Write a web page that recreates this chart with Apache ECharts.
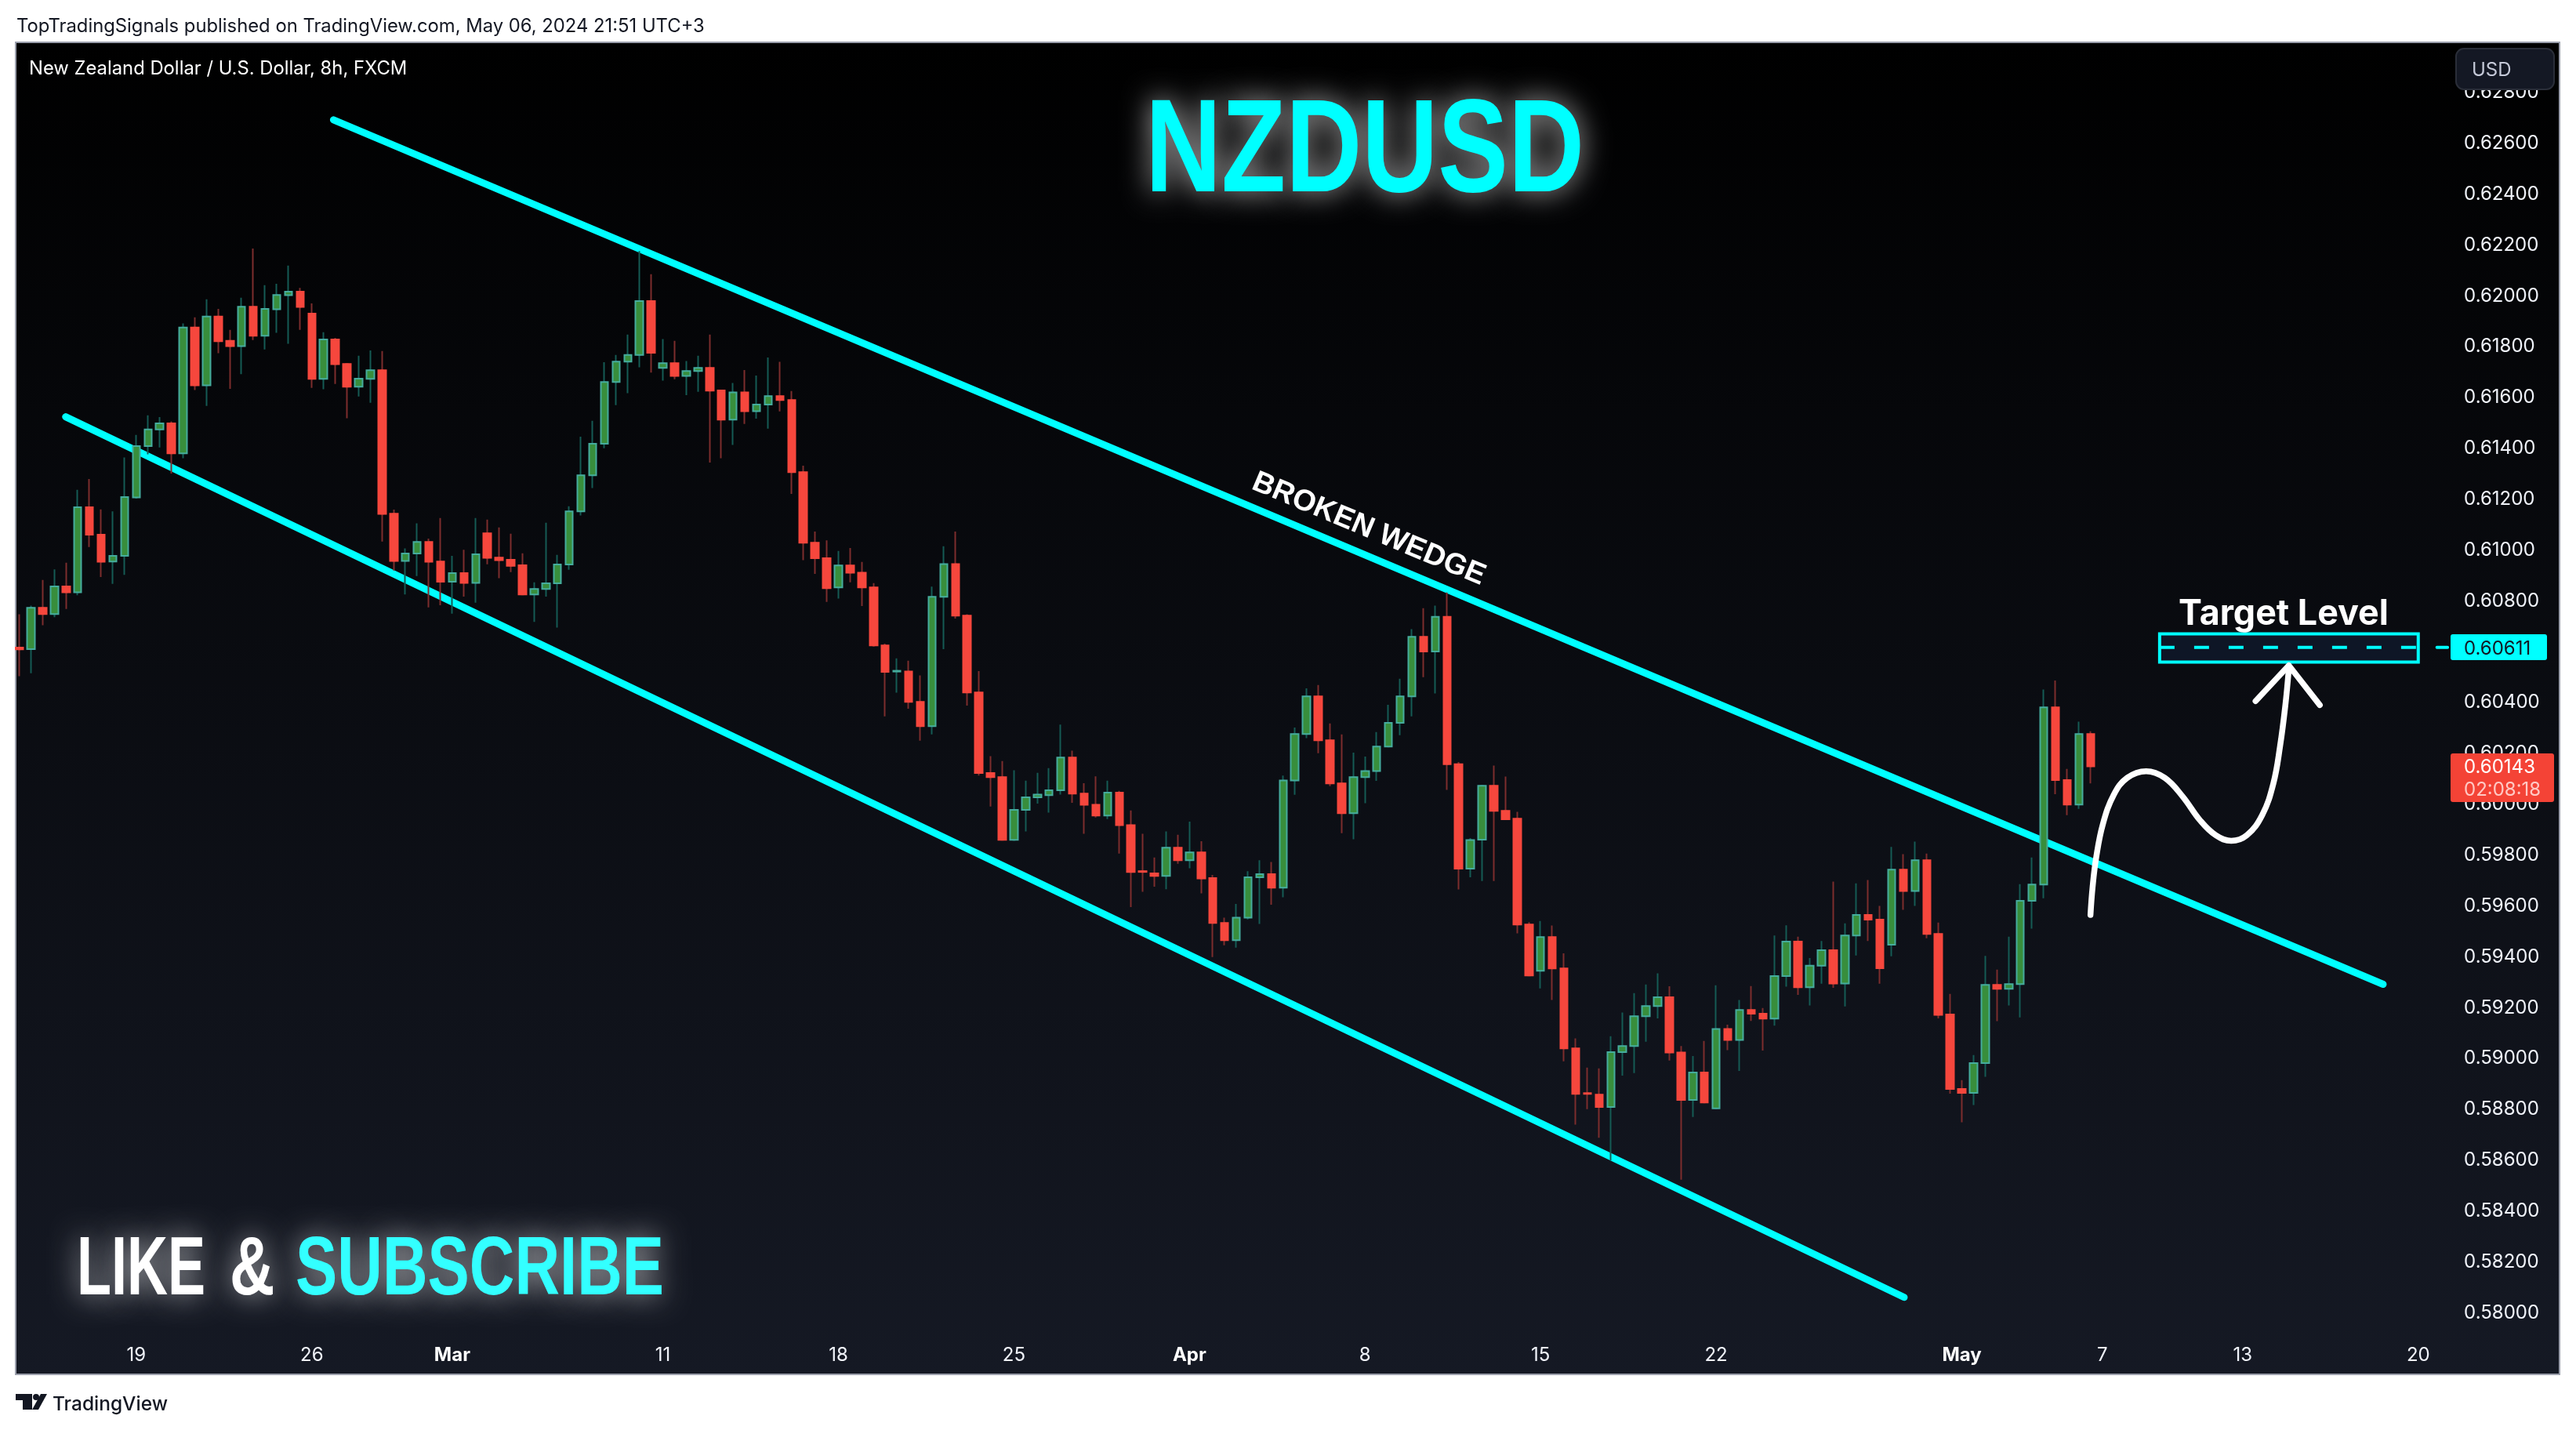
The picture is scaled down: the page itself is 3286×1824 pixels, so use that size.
<!DOCTYPE html>
<html><head><meta charset="utf-8">
<style>html,body{margin:0;padding:0;background:#fff}#c{width:3286px;height:1824px}</style>
<script src="https://cdn.jsdelivr.net/npm/echarts@6/dist/echarts.min.js"></script>
</head><body><div id="c"></div>
<script>
const opens=[
0.60610,0.60604,0.60767,0.60742,0.60851,0.60828,0.61162,0.61054,0.60949,0.60971,
0.61201,0.61403,0.61468,0.61492,0.61374,0.61869,0.61642,0.61912,0.61817,0.61796,
0.61951,0.61837,0.61941,0.61996,0.62010,0.61924,0.61667,0.61822,0.61726,0.61636,
0.61667,0.61701,0.61137,0.60951,0.60980,0.61026,0.60949,0.60869,0.60903,0.60865,
0.61060,0.60964,0.60956,0.60934,0.60819,0.60841,0.60863,0.60937,0.61146,0.61288,
0.61412,0.61655,0.61735,0.61761,0.61973,0.61710,0.61729,0.61679,0.61698,0.61710,
0.61622,0.61507,0.61614,0.61540,0.61566,0.61599,0.61584,0.61300,0.61023,0.60962,
0.60847,0.60933,0.60905,0.60847,0.60619,0.60516,0.60516,0.60397,0.60301,0.60810,
0.60939,0.60736,0.60434,0.60117,0.60101,0.59854,0.59972,0.60021,0.60030,0.60049,
0.60178,0.60036,0.59992,0.59950,0.60040,0.59912,0.59731,0.59722,0.59712,0.59823,
0.59774,0.59805,0.59704,0.59527,0.59459,0.59548,0.59707,0.59719,0.59666,0.60088,
0.60270,0.60418,0.60246,0.60076,0.59959,0.60101,0.60125,0.60221,0.60314,0.60418,
0.60653,0.60595,0.60731,0.60152,0.59741,0.59855,0.60067,0.59968,0.59937,0.59521,
0.59339,0.59472,0.59348,0.59034,0.58858,0.58852,0.58803,0.59019,0.59043,0.59160,
0.59200,0.59235,0.59018,0.58831,0.58939,0.58798,0.59110,0.59067,0.59185,0.59170,
0.59151,0.59318,0.59454,0.59274,0.59359,0.59420,0.59289,0.59478,0.59559,0.59540,
0.59442,0.59737,0.59653,0.59774,0.59484,0.59167,0.58874,0.58859,0.58976,0.59284,
0.59268,0.59287,0.59614,0.59678,0.60375,0.60089,0.59993,0.60270];
const closes=[
0.60603,0.60767,0.60742,0.60851,0.60828,0.61162,0.61054,0.60948,0.60971,0.61202,
0.61403,0.61468,0.61492,0.61374,0.61869,0.61642,0.61912,0.61815,0.61796,0.61951,
0.61837,0.61942,0.61997,0.62010,0.61950,0.61667,0.61822,0.61725,0.61636,0.61668,
0.61701,0.61136,0.60951,0.60980,0.61026,0.60948,0.60869,0.60903,0.60865,0.60977,
0.60963,0.60954,0.60932,0.60819,0.60841,0.60863,0.60937,0.61146,0.61288,0.61412,
0.61655,0.61735,0.61761,0.61973,0.61770,0.61729,0.61679,0.61698,0.61710,0.61621,
0.61507,0.61614,0.61540,0.61566,0.61599,0.61584,0.61300,0.61023,0.60962,0.60844,
0.60933,0.60905,0.60847,0.60619,0.60515,0.60519,0.60397,0.60301,0.60810,0.60939,
0.60736,0.60434,0.60117,0.60101,0.59854,0.59972,0.60021,0.60032,0.60049,0.60178,
0.60036,0.59992,0.59950,0.60040,0.59912,0.59728,0.59728,0.59712,0.59823,0.59774,
0.59805,0.59702,0.59527,0.59459,0.59548,0.59707,0.59719,0.59666,0.60088,0.60270,
0.60418,0.60246,0.60076,0.59959,0.60101,0.60125,0.60221,0.60314,0.60418,0.60653,
0.60595,0.60731,0.60152,0.59741,0.59853,0.60067,0.59968,0.59935,0.59521,0.59321,
0.59472,0.59348,0.59034,0.58855,0.58855,0.58803,0.59019,0.59043,0.59160,0.59200,
0.59235,0.59018,0.58831,0.58939,0.58821,0.59110,0.59067,0.59185,0.59170,0.59151,
0.59318,0.59454,0.59274,0.59359,0.59420,0.59289,0.59478,0.59559,0.59540,0.59349,
0.59737,0.59653,0.59774,0.59484,0.59166,0.58874,0.58859,0.58976,0.59284,0.59268,
0.59287,0.59614,0.59678,0.60375,0.60089,0.59993,0.60270,0.60143];
const lows=[
0.60498,0.60509,0.60698,0.60730,0.60762,0.60816,0.61006,0.60888,0.60861,0.60896,
0.61196,0.61370,0.61397,0.61295,0.61355,0.61623,0.61561,0.61768,0.61628,0.61686,
0.61820,0.61783,0.61848,0.61805,0.61860,0.61632,0.61626,0.61647,0.61512,0.61598,
0.61573,0.61027,0.60913,0.60819,0.60892,0.60768,0.60777,0.60744,0.60811,0.60787,
0.60938,0.60883,0.60907,0.60819,0.60711,0.60811,0.60689,0.60916,0.61130,0.61238,
0.61394,0.61564,0.61611,0.61713,0.61692,0.61660,0.61666,0.61603,0.61616,0.61338,
0.61355,0.61407,0.61490,0.61511,0.61471,0.61539,0.61215,0.60954,0.60900,0.60790,
0.60803,0.60867,0.60774,0.60614,0.60340,0.60433,0.60370,0.60244,0.60269,0.60604,
0.60724,0.60382,0.60107,0.59985,0.59854,0.59850,0.59887,0.59997,0.59961,0.60032,
0.60000,0.59878,0.59942,0.59936,0.59800,0.59590,0.59650,0.59670,0.59660,0.59760,
0.59742,0.59644,0.59393,0.59439,0.59430,0.59541,0.59523,0.59599,0.59628,0.60031,
0.60254,0.60195,0.60065,0.59880,0.59856,0.59998,0.60086,0.60218,0.60266,0.60340,
0.60494,0.60430,0.60051,0.59659,0.59707,0.59692,0.59692,0.59935,0.59486,0.59321,
0.59270,0.59224,0.58983,0.58734,0.58795,0.58682,0.58593,0.58927,0.58937,0.59060,
0.59152,0.58986,0.58517,0.58764,0.58821,0.58798,0.59027,0.58945,0.59142,0.59025,
0.59123,0.59277,0.59244,0.59203,0.59288,0.59272,0.59199,0.59399,0.59456,0.59288,
0.59396,0.59579,0.59594,0.59467,0.59152,0.58856,0.58743,0.58811,0.58922,0.59141,
0.59203,0.59156,0.59505,0.59624,0.60034,0.59951,0.59976,0.60076];
const highs=[
0.60741,0.60775,0.60876,0.60918,0.60944,0.61231,0.61273,0.61154,0.61146,0.61358,
0.61447,0.61524,0.61517,0.61500,0.61885,0.61909,0.61980,0.61942,0.61860,0.61986,
0.62180,0.62036,0.62041,0.62113,0.62025,0.61964,0.61851,0.61828,0.61726,0.61758,
0.61779,0.61777,0.61153,0.61000,0.61099,0.61039,0.61120,0.60971,0.60995,0.61120,
0.61114,0.61083,0.61058,0.60981,0.60867,0.61101,0.60975,0.61166,0.61440,0.61502,
0.61733,0.61761,0.61841,0.62170,0.62079,0.61824,0.61817,0.61737,0.61758,0.61841,
0.61622,0.61651,0.61702,0.61680,0.61751,0.61734,0.61619,0.61326,0.61067,0.61032,
0.60990,0.61002,0.60947,0.60864,0.60626,0.60568,0.60559,0.60501,0.60850,0.61009,
0.61067,0.60741,0.60518,0.60183,0.60164,0.60128,0.60087,0.60118,0.60136,0.60307,
0.60205,0.60077,0.60104,0.60087,0.60047,0.59970,0.59878,0.59785,0.59887,0.59874,
0.59926,0.59849,0.59716,0.59548,0.59602,0.59731,0.59774,0.59767,0.60107,0.60296,
0.60450,0.60463,0.60312,0.60269,0.60197,0.60182,0.60278,0.60385,0.60488,0.60683,
0.60765,0.60775,0.60827,0.60160,0.59861,0.60068,0.60146,0.60103,0.59964,0.59530,
0.59535,0.59517,0.59408,0.59073,0.58958,0.58955,0.59082,0.59175,0.59251,0.59285,
0.59329,0.59278,0.59043,0.59004,0.59063,0.59282,0.59127,0.59224,0.59279,0.59193,
0.59478,0.59518,0.59473,0.59389,0.59456,0.59690,0.59526,0.59683,0.59696,0.59594,
0.59826,0.59798,0.59847,0.59800,0.59529,0.59248,0.58909,0.59008,0.59398,0.59344,
0.59473,0.59680,0.59785,0.60445,0.60481,0.60133,0.60319,0.60281];

const tickBars=[10,25,37,55,70,85,100,115,130,145,166,178,190,205];
const tickLabels=['19','26','Mar','11','18','25','Apr','8','15','22','May','7','13','20'];
const monthLabels=['Mar','Apr','May'];
const barSlots=208;
const priceMin=0.578, priceMax=0.630, priceStep=0.002;
const targetPrice=0.60611, lastPrice=0.60143;

// drawings, in [bar position, price]
const upperLine=[[27.35,0.62686],[202.5,0.59286]];
const lowerLine=[[4.46,0.61518],[161.57,0.58055]];
const targetLine=[[183.4,targetPrice],[205.5,targetPrice]];
const targetStub=[[207.1,targetPrice],[208,targetPrice]];
const targetBoxFrom=[183.4,0.60664], targetBoxTo=[205.5,0.60553];
const pathCurve=[[177.49,0.59559],[177.67,0.59668],[177.98,0.59785],[178.55,0.59916],[179.49,0.60032],[180.63,0.60098],[182.25,0.60124],[183.84,0.60098],[185.36,0.60025],[186.87,0.59930],[188.20,0.59872],[189.52,0.59850],[190.85,0.59872],[192.17,0.59952],[193.12,0.60076],[193.69,0.60222],[194.14,0.60382],[194.44,0.60527]];
const pathHead=[[191.60,0.60400],[194.44,0.60540],[197.09,0.60384]];

const CYAN='#00FFFF', UP='#388E3C', UPB='#45AC9D', UPW='#155B54', DN='#F6473D', DNW='#7C2D2D';
const categories=Array.from({length:barSlots},(_,i)=>{const k=tickBars.indexOf(i);return k<0?'':tickLabels[k];});
const wickData=opens.map((o,i)=>[o,closes[i],lows[i],highs[i]]);
const bodyData=opens.map((o,i)=>[o,closes[i],Math.min(o,closes[i]),Math.max(o,closes[i])]);
const AXF='Inter, "Noto Sans", sans-serif', HV='"Liberation Sans", sans-serif';
const glow=(extra)=>Object.assign({textShadowColor:'rgba(255,255,255,0.7)',textShadowBlur:36,textShadowOffsetX:0,textShadowOffsetY:0},extra);
function drawLine(name,data,color,width,z,extra){return Object.assign({type:'line',name,xAxisIndex:1,yAxisIndex:0,data,showSymbol:false,symbol:'none',z,silent:true,animation:false,lineStyle:{color,width,cap:'round',join:'round'}},extra||{});}

const chart=echarts.init(document.getElementById('c'),null,{renderer:'canvas'});
chart.setOption({
 animation:false,
 backgroundColor:'#ffffff',
 grid:{left:17.1,top:51,width:3105,height:1686.4,containLabel:false},
 xAxis:[
  {type:'category',data:categories,boundaryGap:true,axisLine:{show:false},axisTick:{show:false},splitLine:{show:false},
   axisLabel:{show:true,interval:0,margin:-21,hideOverlap:false,color:'#F0F3FA',fontFamily:AXF,fontSize:24,
    formatter:v=>monthLabels.includes(v)?'{m|'+v+'}':v,
    rich:{m:{fontWeight:700,color:'#FFFFFF',fontFamily:AXF,fontSize:24}}}},
  {type:'value',min:0,max:barSlots,show:false,splitLine:{show:false}}
 ],
 yAxis:[{type:'value',position:'right',min:priceMin,max:priceMax,interval:priceStep,scale:true,
   axisLine:{show:false},axisTick:{show:false},splitLine:{show:false},
   axisLabel:{margin:21,color:'#F0F3FA',fontFamily:AXF,fontSize:24,
     formatter:v=>(Math.abs(v-priceMin)<1e-6||Math.abs(v-priceMax)<1e-6)?'':'{v|'+v.toFixed(5)+'}',
     rich:{v:{color:'#F0F3FA',fontFamily:AXF,fontSize:24,padding:[4,0,0,0]}}}}],
 series:[
  drawLine('Upper channel',upperLine,CYAN,9,1),
  drawLine('Lower channel',lowerLine,CYAN,9,1),
  {type:'candlestick',name:'Wicks',xAxisIndex:0,yAxisIndex:0,data:wickData,barWidth:2,z:2,silent:true,
   itemStyle:{color:UPW,color0:DNW,borderColor:UPW,borderColor0:DNW,borderWidth:2}},
  {type:'candlestick',name:'NZDUSD',xAxisIndex:0,yAxisIndex:0,data:bodyData,barWidth:10,z:3,silent:true,
   itemStyle:{color:UP,color0:DN,borderColor:UPB,borderColor0:DN,borderWidth:2}},
  drawLine('Target level',targetLine,CYAN,4,4,{lineStyle:{color:CYAN,width:4,type:[19,25]},
   markArea:{silent:true,z:0,itemStyle:{color:'#0E1626',borderColor:CYAN,borderWidth:4},
     data:[[{coord:targetBoxFrom},{coord:targetBoxTo}]]}}),
  drawLine('Target stub',targetStub,CYAN,4,4),
  drawLine('Path',pathCurve,'#FFFFFF',7.5,5,{smooth:0.4}),
  drawLine('Arrow',pathHead,'#FFFFFF',7.5,5)
 ],
 graphic:{elements:[
  {type:'rect',silent:true,z:-1,shape:{x:20,y:54,width:3245,height:1699},
   style:{stroke:'#9a9eab',lineWidth:2,fill:new echarts.graphic.LinearGradient(0,0,0,1,[{offset:0,color:'#000000'},{offset:1,color:'#151924'}])}},
  {type:'rect',silent:true,z:50,shape:{x:0,y:40,width:19,height:1730},style:{fill:'#ffffff'}},
  {type:'text',z:60,style:{x:21,y:34,text:'TopTradingSignals published on TradingView.com, May 06, 2024 21:51 UTC+3',font:'23.8px '+AXF,fill:'#131722',textVerticalAlign:'middle'}},
  {type:'text',z:60,style:{x:37,y:88,text:'New Zealand Dollar / U.S. Dollar, 8h, FXCM',font:'23.8px '+AXF,fill:'#FFFFFF',textVerticalAlign:'middle'}},
  {type:'text',z:60,x:1741,y:198,scaleX:0.80,style:glow({x:0,y:0,text:'NZDUSD',font:'bold 168px '+HV,fill:CYAN,textAlign:'center',textVerticalAlign:'middle'})},
  {type:'text',z:60,x:98,y:1622,scaleX:0.68,style:glow({x:0,y:0,text:'LIKE',font:'bold 106px '+HV,fill:'#FFFFFF',textVerticalAlign:'middle'})},
  {type:'text',z:60,x:293,y:1622,scaleX:0.75,style:glow({x:0,y:0,text:'&',font:'bold 106px '+HV,fill:'#FFFFFF',textVerticalAlign:'middle'})},
  {type:'text',z:60,x:377,y:1622,scaleX:0.753,style:glow({x:0,y:0,text:'SUBSCRIBE',font:'bold 106px '+HV,fill:'#33FFFF',textVerticalAlign:'middle'})},
  {type:'text',z:60,x:1746,y:675,rotation:-0.398,style:{x:0,y:0,text:'BROKEN WEDGE',font:'bold 38px '+HV,fill:'#FFFFFF',textAlign:'center',textVerticalAlign:'middle'}},
  {type:'text',z:60,style:{x:2913,y:784,text:'Target Level',font:'700 44.8px '+AXF,fill:'#FFFFFF',textAlign:'center',textVerticalAlign:'middle'}},
  {type:'rect',z:60,silent:true,shape:{x:3133,y:62,width:125,height:52,r:10},style:{fill:'#141824',stroke:'#2A2E39',lineWidth:2}},
  {type:'text',z:61,style:{x:3153,y:90,text:'USD',font:'24px '+AXF,fill:'#C5C9D8',textVerticalAlign:'middle'}},
  {type:'rect',z:60,silent:true,shape:{x:3126,y:809,width:123,height:33,r:3},style:{fill:CYAN}},
  {type:'text',z:61,style:{x:3143,y:828,text:targetPrice.toFixed(5),font:'24px '+AXF,fill:'#131722',textVerticalAlign:'middle'}},
  {type:'rect',z:60,silent:true,shape:{x:3126,y:961,width:132,height:62,r:3},style:{fill:'#F44336'}},
  {type:'text',z:61,style:{x:3143,y:979,text:lastPrice.toFixed(5),font:'24px '+AXF,fill:'#FFFFFF',textVerticalAlign:'middle'}},
  {type:'text',z:61,style:{x:3143,y:1008,text:'02:08:18',font:'24px '+AXF,fill:'#FFC9C4',textVerticalAlign:'middle'}},
  {type:'polygon',z:60,silent:true,shape:{points:[[20,1778],[41,1778],[41,1798],[29,1798],[29,1786],[20,1786]]},style:{fill:'#131722'}},
  {type:'circle',z:60,silent:true,shape:{cx:46,cy:1782,r:4},style:{fill:'#131722'}},
  {type:'polygon',z:60,silent:true,shape:{points:[[52,1778],[60,1778],[49,1798],[41,1798]]},style:{fill:'#131722'}},
  {type:'text',z:60,style:{x:67,y:1792,text:'TradingView',font:'500 24.5px '+AXF,fill:'#131722',textVerticalAlign:'middle'}}
 ]}
});
</script></body></html>
